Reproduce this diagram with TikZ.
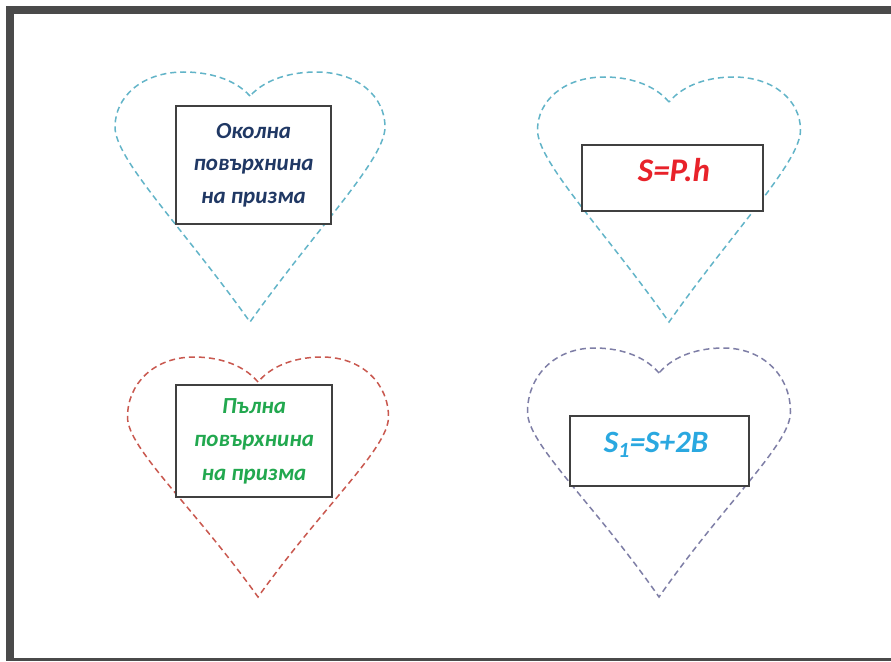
\documentclass[tikz,border=0pt]{standalone}
\usepackage{fontspec}
\setmainfont{Carlito}
\definecolor{frameg}{HTML}{4A4A4A}
\definecolor{teal}{HTML}{62B4C8}
\definecolor{redh}{HTML}{C9584F}
\definecolor{purh}{HTML}{7E7EA6}
\definecolor{navy}{HTML}{203864}
\definecolor{redt}{HTML}{E8222A}
\definecolor{greent}{HTML}{22A84F}
\definecolor{cyant}{HTML}{2AA8E0}
\newcommand\heartshape[7]{% color, cx, w, ty, ny, ly, by
  \draw[heartline,#1]
    (#2,#5) .. controls ({#2-0.12*#3},{#5-0.75*(#5-#4)}) and ({#2-0.32*#3},#4) .. ({#2-0.49*#3},#4)
    .. controls ({#2-0.8*#3},#4) and ({#2-#3},{#6-0.55*(#6-#4)}) .. ({#2-#3},#6)
    .. controls ({#2-#3},{#6+0.13*(#7-#4)}) and ({#2-0.5*#3},{#7-0.38*(#7-#4)}) .. (#2,#7)
    .. controls ({#2+0.5*#3},{#7-0.38*(#7-#4)}) and ({#2+#3},{#6+0.13*(#7-#4)}) .. ({#2+#3},#6)
    .. controls ({#2+#3},{#6-0.55*(#6-#4)}) and ({#2+0.8*#3},#4) .. ({#2+0.49*#3},#4)
    .. controls ({#2+0.32*#3},#4) and ({#2+0.12*#3},{#5-0.75*(#5-#4)}) .. (#2,#5);}
\tikzset{
  heartline/.style={line width=1.5pt, dash pattern=on 6pt off 4pt},
  tbox/.style={draw=black!75, line width=1.4pt, fill=white, rectangle, inner sep=0pt, align=center},
  txt/.style={inner sep=0pt, align=center}
}
\begin{document}
\begin{tikzpicture}[x=1pt,y=-1pt]
\useasboundingbox (0,0) rectangle (891,661);
\fill[white] (0,0) rectangle (891,661);
% frame
\fill[frameg] (6,6) rectangle (891,14);
\fill[frameg] (6,6) rectangle (14,661);
\fill[frameg] (6,658) rectangle (891,661);
% hearts
\heartshape{teal}{250}{135}{72}{96}{127}{322}
\heartshape{teal}{669}{131.5}{77}{102}{130}{322}
\heartshape{redh}{258}{130.5}{357}{382}{417}{597}
\heartshape{purh}{659}{131.5}{348}{373}{412}{597}
% boxes
\node[tbox, minimum width=155pt, minimum height=118pt] (b1) at (253.5,165) {};
\node[tbox, minimum width=181pt, minimum height=66pt] (b2) at (672.5,178) {};
\node[tbox, minimum width=156pt, minimum height=112pt] (b3) at (254,441) {};
\node[tbox, minimum width=179pt, minimum height=70pt] (b4) at (659.5,451) {};
% texts
\node[txt, text=navy, font=\fontsize{23}{32.5}\selectfont\bfseries\itshape] (t1) at (b1.center) {Околна\\повърхнина\\на призма};
\node[txt, text=redt, font=\fontsize{33}{38}\selectfont\bfseries\itshape] (t2) at (674,170) {S=P.h};
\node[txt, text=greent, font=\fontsize{23}{33.5}\selectfont\bfseries\itshape] (t3) at (b3.center) {Пълна\\повърхнина\\на призма};
\node[txt, text=cyant, font=\fontsize{31}{36}\selectfont\bfseries\itshape] (t4) at (656,445) {S\textsubscript{1}=S+2B};
\end{tikzpicture}
\end{document}
